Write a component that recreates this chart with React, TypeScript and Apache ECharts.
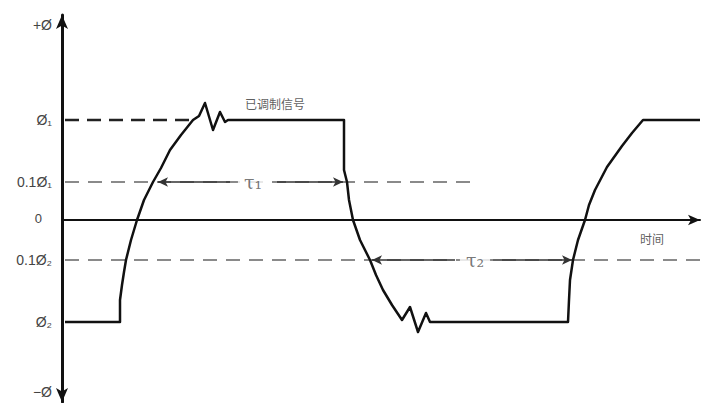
import React, { useEffect, useRef } from 'react';
import * as echarts from 'echarts';

// Signal (phase vs time), in diagram units
const sigX = [3, 58, 58, 60, 62, 64, 69, 75, 82, 91, 99, 108, 119, 131, 137, 143, 151, 158, 163, 166,
  282, 282, 285, 287, 291, 298, 308, 314, 321, 330, 340, 348, 356, 364, 368,
  506, 507, 508, 511, 516, 523, 527, 533, 545, 560, 570, 581, 638];
const sigY = [-102, -102, -80, -65, -52, -40, -20, 0, 20, 38, 52, 70, 85, 100, 104, 117, 90, 108, 98, 100,
  100, 50, 38, 20, 0, -20, -40, -55, -70, -85, -100, -87, -112, -93, -102,
  -102, -80, -60, -40, -20, 0, 15, 30, 53, 74, 87, 100, 100];

// Reference levels
const phi1Dash = [[3, 100], [131, 100]];
const tenthPhi1Dash = [[3, 38], [415, 38]];
const tenthPhi2Dash = [[3, -40], [638, -40]];

// Y tick labels
const yTickValues = [195, 100, 38, 0, -40, -102, -172];
const yTickLabels = ['+Ø', 'Ø₁', '0.1Ø₁', '0', '0.1Ø₂', 'Ø₂', '−Ø'];

// Time-interval arrows: [tip, end, y]
const tau1Left = [96, 168, 38];
const tau1Right = [281, 215, 38];
const tau2Left = [310, 393, -40];
const tau2Right = [510, 431, -40];

// Annotations
const tauNames = ['τ₁', 'τ₂'];
const tauPos = [[191, 38], [413, -40]];
const textNames = ['已调制信号', '时间'];
const textPos = [[213, 117], [590, -18]];

export default function App() {
  const ref = useRef<HTMLDivElement>(null);
  useEffect(() => {
    document.body.style.margin = '0';
    const chart = echarts.init(ref.current!, null, { renderer: 'svg' });
    const arrowLine = (a: number[]) => [
      { coord: [a[0], a[2]], symbol: 'arrow' },
      { coord: [a[1], a[2]], symbol: 'none' },
    ];
    const option: any = {
      animation: false,
      backgroundColor: '#fff',
      grid: { left: 62, right: 5, top: 15, bottom: 1 },
      xAxis: {
        type: 'value', min: 0, max: 638,
        axisLine: { show: true, onZero: true, symbol: ['none', 'arrow'], symbolSize: [8, 12], lineStyle: { color: '#111', width: 2 } },
        axisTick: { show: false }, axisLabel: { show: false }, splitLine: { show: false },
      },
      yAxis: {
        type: 'value', min: -182, max: 205,
        axisLine: { show: true, symbol: ['arrow', 'arrow'], symbolSize: [9, 14], lineStyle: { color: '#111', width: 3 } },
        axisTick: { show: false }, splitLine: { show: false },
        axisLabel: {
          show: true,
          customValues: yTickValues,
          margin: 10,
          color: '#444',
          fontSize: 14,
          fontFamily: 'Liberation Sans, Arial, sans-serif',
          formatter: (v: number) => {
            const i = yTickValues.indexOf(v);
            const s = i >= 0 ? yTickLabels[i] : '';
            return s === '0' ? '{z|0}' : s;
          },
          rich: { z: { padding: [0, 10, 4, 0], fontSize: 13, color: '#444' } },
        },
      },
      series: [
        {
          type: 'line', data: tenthPhi1Dash, symbol: 'none', z: 1,
          lineStyle: { color: '#8a8a8a', width: 2, type: [14, 9] },
        },
        {
          type: 'line', data: tenthPhi2Dash, symbol: 'none', z: 1,
          lineStyle: { color: '#8a8a8a', width: 2, type: [14, 9] },
          markLine: {
            silent: true, symbolSize: [7, 10], label: { show: false },
            lineStyle: { color: '#333', width: 1.5, type: 'solid' },
            data: [arrowLine(tau1Left), arrowLine(tau1Right), arrowLine(tau2Left), arrowLine(tau2Right)],
          },
        },
        {
          type: 'line', data: phi1Dash, symbol: 'none', z: 2,
          lineStyle: { color: '#222', width: 2.5, type: [14, 8] },
        },
        {
          type: 'line', data: sigX.map((x, i) => [x, sigY[i]]), symbol: 'none', z: 3,
          lineStyle: { color: '#111', width: 2.5, join: 'round' },
        },
        {
          type: 'scatter', symbolSize: 0, z: 4,
          data: tauNames.map((n, i) => ({ name: n, value: tauPos[i] })),
          label: {
            show: true, position: 'inside', formatter: '{b}', color: '#555', fontSize: 19,
            fontFamily: 'DejaVu Serif, serif', backgroundColor: '#fff', padding: [0, 6],
          },
        },
        {
          type: 'scatter', symbolSize: 0, z: 4,
          data: textNames.map((n, i) => ({ name: n, value: textPos[i] })),
          label: {
            show: true, position: 'inside', formatter: '{b}', color: '#333', fontSize: 12,
            fontFamily: 'Noto Sans CJK SC, sans-serif',
          },
        },
      ],
    };
    chart.setOption(option);
    return () => chart.dispose();
  }, []);
  return <div ref={ref} style={{ width: 705, height: 403 }} />;
}
